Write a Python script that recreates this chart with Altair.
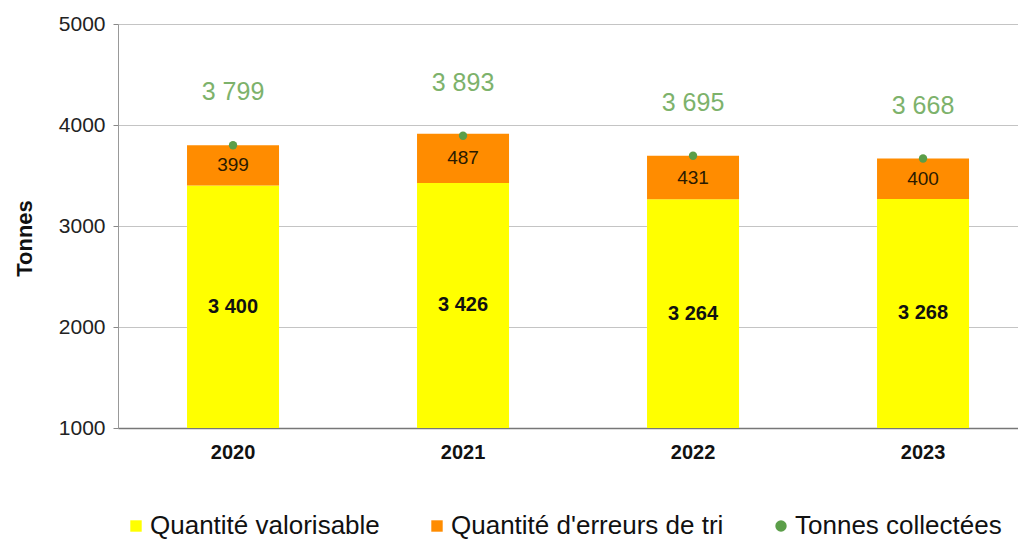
import altair as alt
import pandas as pd

# ---- data ----
years = ["2020", "2021", "2022", "2023"]
valorisable = [3400, 3426, 3264, 3268]
erreurs = [399, 487, 431, 400]
collectees = [3799, 3893, 3695, 3668]

series = ["Quantité valorisable", "Quantité d'erreurs de tri", "Tonnes collectées"]
colors = ["#FFFF00", "#FF8C00", "#5B9E49"]
shapes = ["square", "square", "circle"]
y_ticks = [1000, 2000, 3000, 4000, 5000]

FONT = "Liberation Sans"


def fr(v):
    return f"{v:,}".replace(",", " ")


bars_rows = []
for i, y in enumerate(years):
    bars_rows.append({"annee": y, "serie": series[0], "valeur": valorisable[i], "ordre": 0})
    bars_rows.append({"annee": y, "serie": series[1], "valeur": erreurs[i], "ordre": 1})
bars_df = pd.DataFrame(bars_rows)

wide_df = pd.DataFrame({
    "annee": years,
    "valorisable": valorisable,
    "erreurs": erreurs,
    "total": collectees,
    "lab_val": [fr(v) for v in valorisable],
    "lab_err": [fr(v) for v in erreurs],
    "lab_tot": [fr(v) for v in collectees],
    "serie": [series[2]] * len(years),
})

y_min, y_max = y_ticks[0], y_ticks[-1]

x_enc = alt.X(
    "annee:N",
    sort=years,
    scale=alt.Scale(paddingInner=0.6, paddingOuter=0.2565, align=0.585),
    axis=alt.Axis(
        title=None, labelAngle=0, labelFont=FONT, labelFontSize=20,
        labelFontWeight="bold", labelColor="#111", labelPadding=14,
        ticks=False, domainColor="#777", domainWidth=1.5, grid=False,
    ),
)

y_scale = alt.Scale(domain=[y_min, y_max], nice=False, zero=False)

color_scale = alt.Scale(domain=series, range=colors)
legend = alt.Legend(
    title=None, orient="none", legendX=5, legendY=489, direction="horizontal",
    labelFont=FONT, labelFontSize=26, labelColor="#111", symbolSize=130,
    symbolStrokeWidth=0, columnPadding=44, labelOffset=1, padding=0,
    labelLimit=0,
)

bars = alt.Chart(bars_df).mark_bar(clip=True).encode(
    x=x_enc,
    y=alt.Y(
        "valeur:Q", stack="zero", scale=y_scale,
        axis=alt.Axis(
            values=y_ticks, format="d", title="Tonnes",
            titleFont=FONT, titleFontSize=22, titleFontWeight="bold", titleColor="#111",
            titleAngle=-90, titleX=-94, titleY=214, titleAlign="center", titleBaseline="middle",
            labelFont=FONT, labelFontSize=21, labelColor="#222", labelPadding=8,
            tickSize=5, tickColor="#888", domainColor="#999",
            gridColor="#c4c4c4", gridWidth=1,
        ),
    ),
    color=alt.Color("serie:N", scale=color_scale, legend=legend),
    order=alt.Order("ordre:Q", sort="ascending"),
)

points = alt.Chart(wide_df).mark_point(filled=True, size=70, opacity=1).encode(
    x=x_enc,
    y=alt.Y("total:Q", scale=y_scale),
    color=alt.Color("serie:N", scale=color_scale, legend=legend),
    shape=alt.Shape("serie:N", scale=alt.Scale(domain=series, range=shapes), legend=legend),
)

lab_val = alt.Chart(wide_df).transform_calculate(
    ymid=f"({y_min} + datum.valorisable) / 2"
).mark_text(font=FONT, fontSize=20, fontWeight="bold", color="#111").encode(
    x=x_enc, y=alt.Y("ymid:Q", scale=y_scale), text="lab_val:N"
)

lab_err = alt.Chart(wide_df).transform_calculate(
    ymid="datum.valorisable + datum.erreurs / 2"
).mark_text(font=FONT, fontSize=19, color="#2a1a00").encode(
    x=x_enc, y=alt.Y("ymid:Q", scale=y_scale), text="lab_err:N"
)

lab_tot = alt.Chart(wide_df).mark_text(
    font=FONT, fontSize=25, color="#7DB26B", dy=-53
).encode(
    x=x_enc, y=alt.Y("total:Q", scale=y_scale), text="lab_tot:N"
)

chart = alt.layer(bars, points, lab_val, lab_err, lab_tot).properties(
    width=900,
    height=404,
    autosize=alt.AutoSizeParams(type="none"),
    padding={"left": 110, "top": 16, "right": 0, "bottom": 111},
).configure_view(stroke=None).configure(background="white")

chart.save("out.html", embed_options={"renderer": "svg", "actions": False})
